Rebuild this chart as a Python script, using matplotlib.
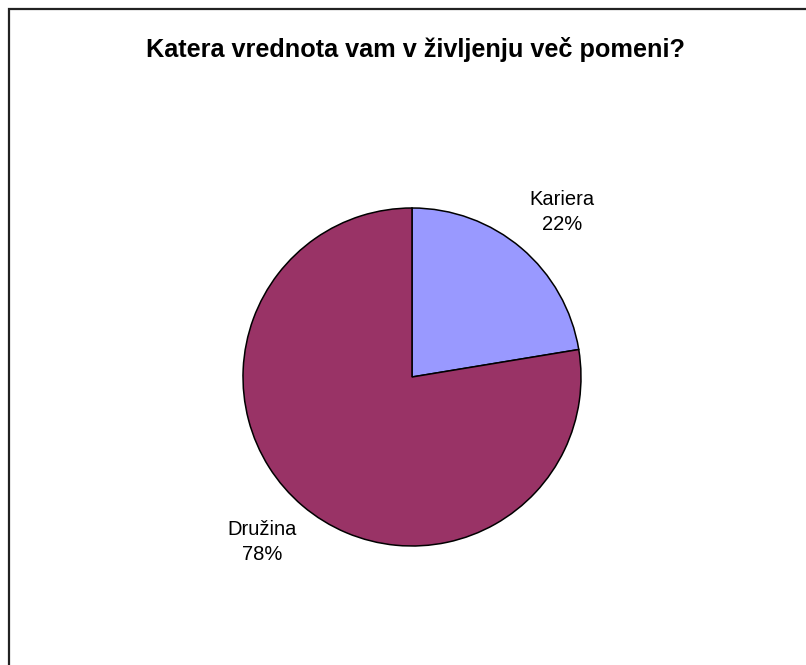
import matplotlib.pyplot as plt
import numpy as np
from matplotlib.patches import Rectangle

# data
categories = ['Kariera', 'Družina']
values = [22.4, 77.6]
colors = ['#9999FF', '#993366']
title = 'Katera vrednota vam v življenju več pomeni?'

plt.rcParams['font.family'] = ['Liberation Sans', 'DejaVu Sans']

W, H = 806, 665
fig = plt.figure(figsize=(W / 100, H / 100), dpi=100)

# chart frame (right and bottom sides fall outside the picture)
fig.add_artist(Rectangle((8.5 / W, -0.1), 1.2, 1.1 - 8.5 / H,
                         transform=fig.transFigure, fill=False,
                         edgecolor='#222222', linewidth=1.6))

cx, cy, r = 412, 377, 169
ax = fig.add_axes([(cx - r) / W, (H - cy - r) / H, 2 * r / W, 2 * r / H])

total = sum(values)
labels = [f'{c}\n{round(100 * v / total)}%' for c, v in zip(categories, values)]
wedges, texts = ax.pie(values, labels=labels, colors=colors, startangle=90,
                       counterclock=False, labeldistance=1.32,
                       wedgeprops=dict(edgecolor='black', linewidth=1.1),
                       textprops=dict(fontsize=14.5, color='black'))
# labels sit a little clockwise of the slice middle
rot = np.deg2rad(-2)
for t in texts:
    x, y = t.get_position()
    t.set_position((x * np.cos(rot) - y * np.sin(rot),
                    x * np.sin(rot) + y * np.cos(rot)))
    t.set_ha('center')
    t.set_va('center')
    t.set_multialignment('center')
    t.set_linespacing(1.45)
ax.set_xlim(-1, 1)
ax.set_ylim(-1, 1)
ax.set_aspect('equal')

fig.text(415 / W, 1 - 50 / H, title, ha='center', va='center',
         fontsize=18.2, fontweight='bold')

fig.savefig('out.png', dpi=100)
